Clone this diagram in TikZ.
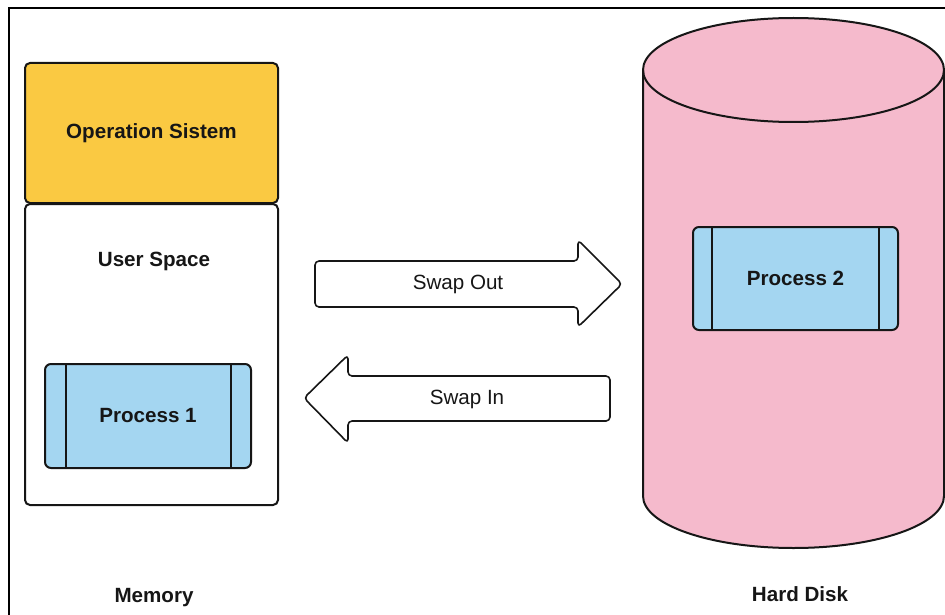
\documentclass[tikz,border=0pt]{standalone}
\usepackage{fontspec}
\setmainfont{Liberation Sans}
\usetikzlibrary{positioning}

\definecolor{osyellow}{RGB}{250,201,66}
\definecolor{procblue}{RGB}{164,214,241}
\definecolor{diskpink}{RGB}{245,186,204}
\definecolor{inkgray}{RGB}{22,22,22}

\begin{document}
\begin{tikzpicture}[
    x=1pt, y=1pt,
    every node/.style={font=\fontsize{20.6pt}{24pt}\selectfont, text=inkgray},
    box/.style={draw=inkgray, line width=2pt, rounded corners=5pt,
                minimum width=253pt, align=center},
    proc/.style={draw=inkgray, fill=procblue, line width=2pt,
                 rounded corners=6pt, font=\fontsize{20.6pt}{24pt}\selectfont\bfseries},
    bar/.style={draw=inkgray, line width=2pt},
    blockarrow/.style={draw=inkgray, fill=white, line width=1.6pt,
                       rounded corners=4pt, line join=round},
    disk/.style={draw=inkgray, fill=diskpink, line width=2pt},
    caption/.style={font=\fontsize{20.6pt}{24pt}\selectfont\bfseries},
]
    \useasboundingbox (0,0) rectangle (945,-615);
    \draw[line width=1.5pt] (9,-615) -- (9,-8) -- (945,-8);

    % memory column
    \node[box, fill=osyellow, minimum height=140pt,
          font=\fontsize{20.6pt}{24pt}\selectfont\bfseries] (os) at (151.5,-133) {Operation Sistem};
    \node[box, fill=white, minimum height=301pt] (user) at (151.5,-354.5) {};
    \node[caption] (userlbl) at (154,-261) {User Space};
    \node[proc, minimum width=206pt, minimum height=104pt] (p1) at (148,-416) {Process 1};
    \draw[bar] ([xshift=22pt]p1.north west) -- ([xshift=22pt]p1.south west);
    \draw[bar] ([xshift=-21pt]p1.north east) -- ([xshift=-21pt]p1.south east);
    \node[caption] (memory) at (154,-598) {Memory};

    % hard disk
    \filldraw[disk] (643,-70) -- (643,-496)
        arc[start angle=180, end angle=360, x radius=150.5, y radius=52]
        -- (944,-70)
        arc[start angle=0, end angle=180, x radius=150.5, y radius=52] -- cycle;
    \draw[disk, fill=none] (643,-70)
        arc[start angle=180, end angle=360, x radius=150.5, y radius=52];
    \node[proc, minimum width=205pt, minimum height=103pt] (p2) at (795.5,-278.5) {Process 2};
    \draw[bar] ([xshift=20pt]p2.north west) -- ([xshift=20pt]p2.south west);
    \draw[bar] ([xshift=-20pt]p2.north east) -- ([xshift=-20pt]p2.south east);
    \node[caption] (disklbl) at (800,-594) {Hard Disk};

    % swapping arrows
    \draw[blockarrow] (315,-261) -- (578,-261) -- (578,-240) -- (622,-284)
        -- (578,-327) -- (578,-307) -- (315,-307) -- cycle;
    \node (swapout) at (458,-284) {Swap Out};
    \draw[blockarrow] (610,-376) -- (348,-376) -- (348,-355) -- (304,-398)
        -- (348,-443) -- (348,-421) -- (610,-421) -- cycle;
    \node (swapin) at (467,-399) {Swap In};
\end{tikzpicture}
\end{document}
